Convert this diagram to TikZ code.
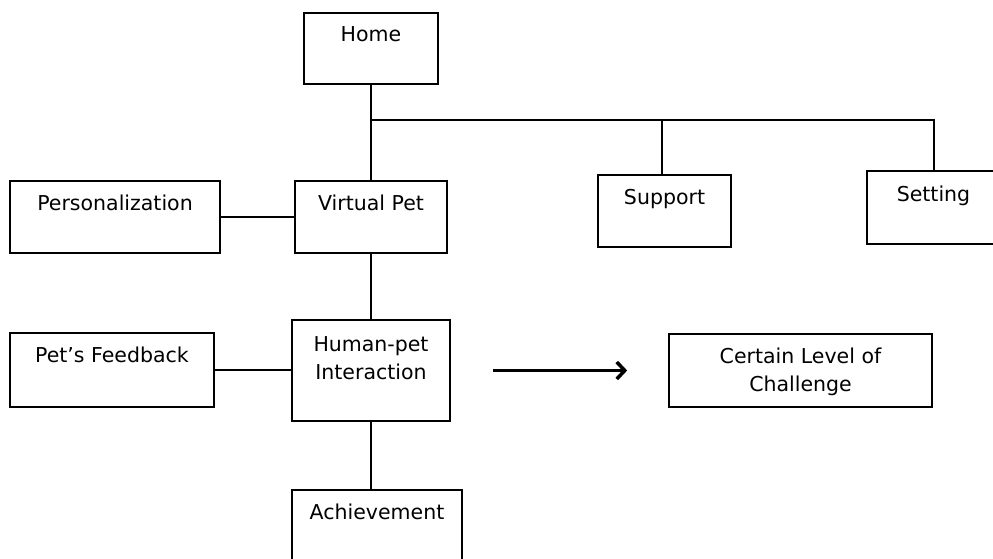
\documentclass[tikz,border=0pt]{standalone}
\usepackage{fontspec}
\setmainfont{DejaVu Sans}
\usetikzlibrary{positioning,arrows.meta}

\begin{document}
\begin{tikzpicture}[x=1pt, y=-1pt,
  box/.style={draw, line width=1.7pt, inner sep=0pt},
  link/.style={line width=1.7pt},
  lbl/.style={inner sep=0pt, anchor=north, align=center, font=\fontsize{20.5}{28}\selectfont}]
\useasboundingbox (0,0) rectangle (993,558);

% Top level
\node[box, minimum width=134, minimum height=71] (home) at (371,48.5) {};
\node[lbl] at ([yshift=-14]home.north) {Home};

% Second level
\node[box, minimum width=152, minimum height=72] (vpet) at (371,217) {};
\node[lbl] at ([yshift=-15]vpet.north) {Virtual Pet};
\node[box, minimum width=210, minimum height=72] (pers) at (115,217) {};
\node[lbl] at ([yshift=-15]pers.north) {Personalization};
\node[box, minimum width=133, minimum height=72] (supp) at (664.5,211) {};
\node[lbl] at ([yshift=-15]supp.north) {Support};
\node[box, minimum width=133, minimum height=73] (sett) at (933.5,207.5) {};
\node[lbl] at ([yshift=-16]sett.north) {Setting};

% Third level
\node[box, minimum width=158, minimum height=101] (hpi) at (371,370.5) {};
\node[lbl] at ([yshift=-17]hpi.north) {Human-pet\\Interaction};
\node[box, minimum width=204, minimum height=74] (pfb) at (112,370) {};
\node[lbl] at ([yshift=-15]pfb.north) {Pet’s Feedback};
\node[box, minimum width=263, minimum height=73] (clc) at (800.5,370.5) {};
\node[lbl] at ([yshift=-15]clc.north) {Certain Level of\\Challenge};
\node[box, minimum width=170, minimum height=80] (ach) at (377,530) {};
\node[lbl] at ([yshift=-15]ach.north) {Achievement};

% Connectors
\coordinate (bus) at (371,120);
\draw[link] (home.south) -- (vpet.north);
\draw[link] (bus) -| ([xshift=0.5]sett.north);
\draw[link] ([xshift=-2.5]supp.north) -- ([xshift=-2.5]supp.north |- bus);
\draw[link] (pers.east) -- (pers.east -| vpet.west);
\draw[link] (vpet.south) -- (hpi.north);
\draw[link] (pfb.east) -- (pfb.east -| hpi.west);
\draw[link] (hpi.south) -- (hpi.south |- ach.north);
\draw[-{Straight Barb[length=8pt,width=17pt]}, line width=3.5pt, shorten <=42, shorten >=41] (hpi) -- (clc);
\end{tikzpicture}
\end{document}
